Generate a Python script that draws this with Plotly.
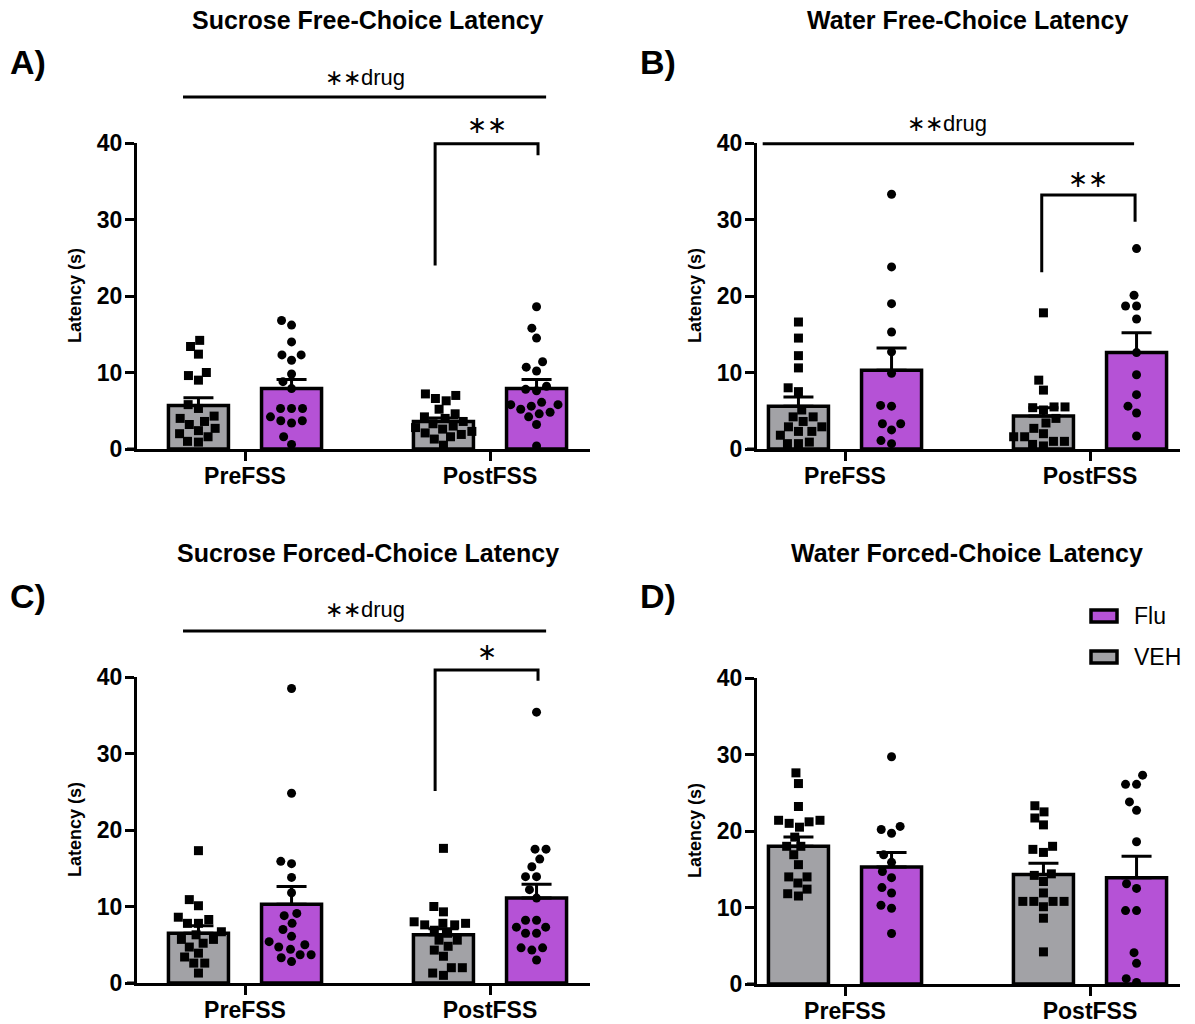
import numpy as np
import plotly.graph_objects as go

W, H = 1195, 1024

categories = ["PreFSS", "PostFSS"]

# ---- A) Sucrose free-choice latency (s) ----
sfc_veh_pre = [14.2, 13.4, 12.4, 10.0, 9.6, 9.0, 5.8, 5.3, 4.3, 4.0, 3.6, 3.2, 2.7, 2.4, 2.0, 1.6, 1.0, 0.9]
sfc_flu_pre = [16.8, 16.2, 14.0, 12.3, 12.3, 11.6, 9.8, 8.8, 7.9, 5.3, 5.3, 5.3, 4.2, 3.7, 3.7, 3.4, 1.6, 0.6]
sfc_veh_post = [7.2, 7.0, 6.6, 6.3, 5.2, 4.6, 4.2, 4.0, 3.6, 3.3, 3.0, 2.8, 2.6, 2.3, 2.1, 1.9, 1.6, 1.3, 0.5]
sfc_flu_post = [18.6, 15.8, 14.5, 11.4, 10.7, 10.2, 8.2, 7.8, 7.6, 6.1, 5.8, 5.8, 5.6, 5.2, 4.8, 4.6, 4.2, 3.2, 0.4]
sfc_veh_mean = [5.7, 3.6]
sfc_veh_sem = [1.0, 0.45]
sfc_flu_mean = [7.9, 7.9]
sfc_flu_sem = [1.2, 1.2]

# ---- B) Water free-choice latency (s) ----
wfc_veh_pre = [16.6, 14.5, 12.2, 10.6, 8.0, 7.5, 5.1, 4.2, 4.2, 3.6, 2.9, 2.9, 2.3, 2.3, 1.8, 0.9, 0.7, 0.7]
wfc_flu_pre = [33.3, 23.8, 19.0, 15.3, 12.7, 9.9, 5.7, 5.6, 3.3, 3.3, 2.5, 1.1, 0.7]
wfc_veh_post = [17.8, 9.0, 7.7, 5.5, 5.5, 5.4, 5.1, 4.0, 3.4, 2.7, 2.0, 1.6, 1.6, 1.0, 1.0, 0.6, 0.4]
wfc_flu_post = [26.2, 20.1, 18.7, 18.7, 17.0, 12.6, 9.7, 7.1, 5.6, 4.7, 1.7]
wfc_veh_mean = [5.6, 4.3]
wfc_veh_sem = [1.2, 1.1]
wfc_flu_mean = [10.3, 12.6]
wfc_flu_sem = [2.9, 2.6]

# ---- C) Sucrose forced-choice latency (s) ----
sfo_veh_pre = [17.3, 10.9, 10.1, 8.6, 8.3, 7.8, 7.8, 6.7, 6.3, 5.7, 5.7, 5.2, 4.7, 3.9, 3.4, 2.6, 2.6, 1.3]
sfo_flu_pre = [38.5, 24.8, 15.9, 15.6, 13.8, 11.8, 9.1, 8.8, 7.8, 7.0, 6.1, 5.4, 5.0, 4.7, 4.4, 3.7, 3.7, 3.3, 2.8]
sfo_veh_post = [17.6, 10.0, 9.3, 8.0, 7.8, 7.8, 7.6, 7.6, 6.9, 6.5, 5.6, 5.6, 4.8, 4.3, 3.5, 2.0, 2.0, 1.3, 1.0]
sfo_flu_post = [35.4, 17.5, 17.5, 16.2, 15.2, 13.9, 13.9, 12.2, 11.1, 8.2, 8.2, 7.3, 7.3, 6.5, 6.5, 4.6, 4.6, 4.3, 3.0]
sfo_veh_mean = [6.5, 6.3]
sfo_veh_sem = [1.0, 0.8]
sfo_flu_mean = [10.3, 11.1]
sfo_flu_sem = [2.3, 1.8]

# ---- D) Water forced-choice latency (s) ----
wfo_veh_pre = [27.6, 26.2, 23.2, 21.4, 21.4, 21.2, 21.0, 20.5, 19.2, 18.0, 18.0, 16.9, 15.6, 14.0, 14.0, 13.2, 12.4, 11.8, 11.5]
wfo_flu_pre = [29.7, 20.6, 20.2, 19.7, 16.9, 15.9, 14.7, 13.9, 12.6, 11.9, 10.3, 9.9, 6.6]
wfo_veh_post = [23.3, 22.5, 21.7, 20.8, 18.0, 17.6, 17.2, 14.4, 14.2, 13.4, 11.9, 10.8, 10.8, 10.8, 10.8, 10.1, 8.6, 4.2]
wfo_flu_post = [27.3, 26.1, 26.1, 23.8, 22.7, 18.6, 13.1, 12.5, 9.6, 9.6, 4.1, 2.7, 0.7, 0.2]
wfo_veh_mean = [18.0, 14.3]
wfo_veh_sem = [1.2, 1.5]
wfo_flu_mean = [15.3, 13.9]
wfo_flu_sem = [1.9, 2.8]

y_ticks = [0, 10, 20, 30, 40]

# ---------------- styling ----------------
VEH_COLOR = "#a2a2a6"
FLU_COLOR = "#b552d6"
FONT = "Liberation Sans, Arial, sans-serif"
BAR_OFF = 0.19      # half distance between the two bars of a group (x units)
BAR_W = 0.245       # bar width (x units)
PX_PER_X = 245.0    # pixels per category step
PX_PER_Y = 7.65     # pixels per second on the y axis
DOT = 9             # marker size (px)


def px(x):
    return x / W


def py(y):
    return 1 - y / H


def swarm(values, dia=11.0):
    """Beeswarm offsets (in x units) so dots of one column do not overlap."""
    ys = np.asarray(values, dtype=float) * PX_PER_Y
    placed, out = [], np.zeros(len(ys))
    for i in np.argsort(ys):
        y = ys[i]
        cands = [0.0]
        for cx, cy in placed:
            dy = abs(cy - y)
            if dy < dia:
                dx = np.sqrt(dia ** 2 - dy ** 2)
                cands += [cx + dx, cx - dx]
        cands.sort(key=lambda c: (abs(round(c, 3)), c))
        for c in cands:
            if all((c - cx) ** 2 + (y - cy) ** 2 >= dia ** 2 - 1e-6 for cx, cy in placed):
                out[i] = c
                placed.append((c, y))
                break
    return out / PX_PER_X


panels = [
    dict(veh=[sfc_veh_pre, sfc_veh_post], flu=[sfc_flu_pre, sfc_flu_post],
         vm=sfc_veh_mean, vs=sfc_veh_sem, fm=sfc_flu_mean, fs=sfc_flu_sem,
         xpx=(137, 590), ypx=(143, 449), cat0=245),
    dict(veh=[wfc_veh_pre, wfc_veh_post], flu=[wfc_flu_pre, wfc_flu_post],
         vm=wfc_veh_mean, vs=wfc_veh_sem, fm=wfc_flu_mean, fs=wfc_flu_sem,
         xpx=(757, 1180), ypx=(143, 449), cat0=845),
    dict(veh=[sfo_veh_pre, sfo_veh_post], flu=[sfo_flu_pre, sfo_flu_post],
         vm=sfo_veh_mean, vs=sfo_veh_sem, fm=sfo_flu_mean, fs=sfo_flu_sem,
         xpx=(137, 590), ypx=(677, 983), cat0=245),
    dict(veh=[wfo_veh_pre, wfo_veh_post], flu=[wfo_flu_pre, wfo_flu_post],
         vm=wfo_veh_mean, vs=wfo_veh_sem, fm=wfo_flu_mean, fs=wfo_flu_sem,
         xpx=(757, 1180), ypx=(678, 984), cat0=845),
]

fig = go.Figure()
layout = {}
shapes = []
annotations = []


def label(text, x, y, size, xref="paper", yref="paper", xanchor="center", **kw):
    annotations.append(dict(text=text, xref=xref, yref=yref, x=x, y=y, xanchor=xanchor,
                            yanchor="middle", showarrow=False,
                            font=dict(family=FONT, size=size, color="black"), **kw))


for k, p in enumerate(panels, start=1):
    xa = "x" if k == 1 else f"x{k}"
    ya = "y" if k == 1 else f"y{k}"
    xname = "xaxis" if k == 1 else f"xaxis{k}"
    yname = "yaxis" if k == 1 else f"yaxis{k}"
    xr = [(p["xpx"][0] - p["cat0"]) / PX_PER_X, 1 + (p["xpx"][1] - p["cat0"] - PX_PER_X) / PX_PER_X]

    for grp, vals, means, sems, color, sym, sign in [
        ("VEH", p["veh"], p["vm"], p["vs"], VEH_COLOR, "square", -1),
        ("Flu", p["flu"], p["fm"], p["fs"], FLU_COLOR, "circle", 1),
    ]:
        xpos = [i + sign * BAR_OFF for i in range(len(categories))]
        fig.add_trace(go.Bar(
            x=xpos, y=means, width=BAR_W, xaxis=xa, yaxis=ya, name=grp,
            marker=dict(color=color, line=dict(color="black", width=3.5)),
            error_y=dict(type="data", array=sems, arrayminus=[0] * len(sems),
                         symmetric=False, color="black", thickness=3, width=15),
            showlegend=False,
        ))
        for i, v in enumerate(vals):
            fig.add_trace(go.Scatter(
                x=(xpos[i] + swarm(v)).tolist(), y=v, mode="markers",
                xaxis=xa, yaxis=ya, cliponaxis=False, showlegend=False,
                marker=dict(symbol=sym, size=DOT, color="black", line=dict(width=0)),
            ))

    layout[xname] = dict(
        domain=[px(p["xpx"][0]), px(p["xpx"][1])], anchor=ya, range=xr, automargin=False,
        tickvals=list(range(len(categories))), ticktext=categories,
        showline=True, linecolor="black", linewidth=3, ticks="outside",
        ticklen=9, tickwidth=3, tickcolor="black", showgrid=False, zeroline=False,
        ticklabelstandoff=-5,
        tickfont=dict(family=FONT, size=23, color="black", weight="bold"),
    )
    layout[yname] = dict(
        domain=[py(p["ypx"][1]), py(p["ypx"][0])], anchor=xa, range=[0, 40], automargin=False,
        tickvals=y_ticks, showline=True, linecolor="black", linewidth=3,
        ticks="outside", ticklen=9, tickwidth=3, tickcolor="black",
        showgrid=False, zeroline=False, ticklabelstandoff=-2,
        tickfont=dict(family=FONT, size=23, color="black", weight="bold"),
    )
    # short extension of the x axis line to the left of the y axis
    shapes.append(dict(type="line", xref=f"{xa} domain", yref=f"{ya} domain",
                       x0=-10 / (p["xpx"][1] - p["xpx"][0]), x1=0, y0=0, y1=0,
                       line=dict(color="black", width=3)))
    # y axis title
    label("<b>Latency (s)</b>", px(p["xpx"][0] - 62), py((p["ypx"][0] + p["ypx"][1]) / 2),
          18, textangle=-90)

# panel titles and letters
titles = ["Sucrose Free-Choice Latency", "Water Free-Choice Latency",
          "Sucrose Forced-Choice Latency", "Water Forced-Choice Latency"]
title_pos = [(368, 20), (967, 20), (368, 553), (967, 553)]
letters = ["A)", "B)", "C)", "D)"]
letter_pos = [(8, 62), (638, 62), (8, 596), (638, 596)]
for t, (tx, ty) in zip(titles, title_pos):
    label(f"<b>{t}</b>", px(tx), py(ty), 25)
for t, (tx, ty) in zip(letters, letter_pos):
    label(f"<b>{t}</b>", px(tx), py(ty), 34, xanchor="left")

# significance marks: main drug effect line and post-hoc brackets
# (x in data units, y in seconds)
drug_marks = [
    ("x", "y", -0.253, 1.229, 46.0, 0.49, 48.6),
    ("x2", "y2", -0.336, 1.180, 39.9, 0.418, 42.6),
    ("x3", "y3", -0.253, 1.229, 46.0, 0.49, 48.8),
]
for xa, ya, x0, x1, yl, tx, ty in drug_marks:
    shapes.append(dict(type="line", xref=xa, yref=f"{ya} domain", x0=x0, x1=x1,
                       y0=yl / 40, y1=yl / 40, line=dict(color="black", width=3)))
    label("∗∗drug", tx, ty / 40, 22, xref=xa, yref=f"{ya} domain")

brackets = [
    ("x", "y", 0.776, 1.196, 39.9, 24.0, 38.4, "∗∗", 42.4),
    ("x2", "y2", 0.803, 1.184, 33.2, 23.1, 29.7, "∗∗", 35.4),
    ("x3", "y3", 0.776, 1.196, 40.9, 25.1, 39.5, "∗", 43.3),
]
for xa, ya, x0, x1, ytop, yl, yr, star, ys in brackets:
    shapes.append(dict(type="path", xref=xa, yref=f"{ya} domain",
                       path=f"M {x0},{yl / 40} L {x0},{ytop / 40} L {x1},{ytop / 40} L {x1},{yr / 40}",
                       line=dict(color="black", width=3)))
    label(star, (x0 + x1) / 2, ys / 40, 24, xref=xa, yref=f"{ya} domain")

# legend in panel D
for name, color, ly in [("Flu", FLU_COLOR, 616), ("VEH", VEH_COLOR, 657)]:
    shapes.append(dict(type="rect", xref="paper", yref="paper",
                       x0=px(1091), x1=px(1117), y0=py(ly + 6), y1=py(ly - 6),
                       fillcolor=color, line=dict(color="black", width=3.5)))
    label(name, px(1132), py(ly), 23, xanchor="left")

fig.update_layout(
    width=W, height=H, margin=dict(l=0, r=0, t=0, b=0, autoexpand=False),
    paper_bgcolor="white", plot_bgcolor="white", showlegend=False,
    barmode="overlay", shapes=shapes, annotations=annotations, **layout,
)

fig.write_html("out.html")
